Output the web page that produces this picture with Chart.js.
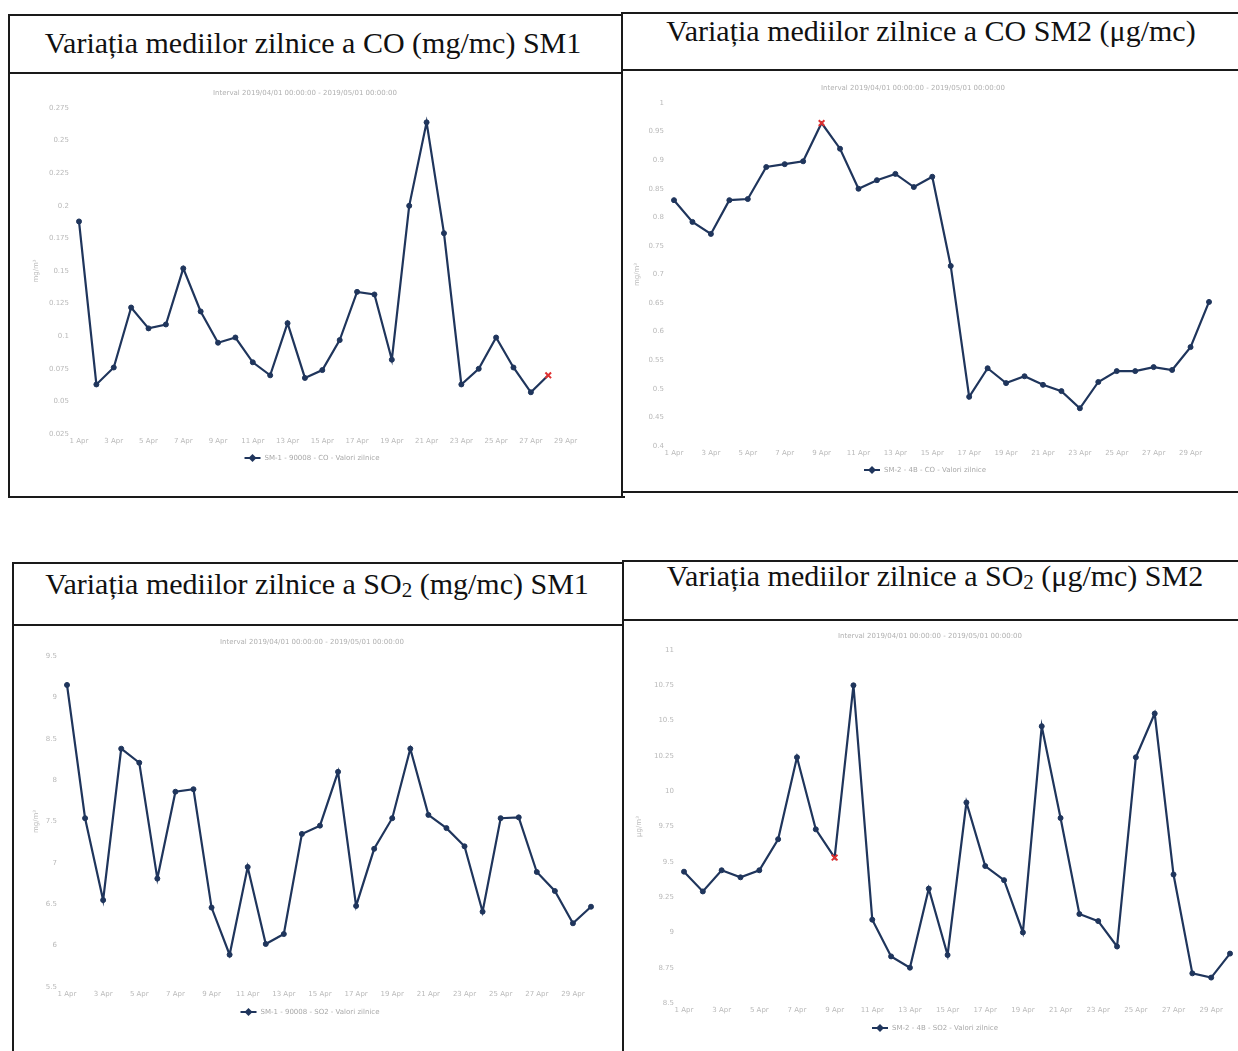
<!DOCTYPE html>
<html>
<head>
<meta charset="utf-8">
<script src="https://cdn.jsdelivr.net/npm/chart.js@4.4.1/dist/chart.umd.min.js"></script>
<style>
  html, body { margin:0; padding:0; background:#fff; }
  body { width:1238px; height:1051px; position:relative; overflow:hidden; }
  .ln { position:absolute; background:#1a1a1a; }
  .ttl { position:absolute; font-family:"Liberation Serif","Times New Roman",serif; font-size:30px; color:#111; white-space:nowrap; transform:translateX(-50%); line-height:1; }
  .ttl sub { font-size:21px; vertical-align:-3px; line-height:0; }
  .cv { position:absolute; }
</style>
</head>
<body>
<script>
// ---------- DATA ----------
const days = ["1 Apr","2 Apr","3 Apr","4 Apr","5 Apr","6 Apr","7 Apr","8 Apr","9 Apr","10 Apr",
  "11 Apr","12 Apr","13 Apr","14 Apr","15 Apr","16 Apr","17 Apr","18 Apr","19 Apr","20 Apr",
  "21 Apr","22 Apr","23 Apr","24 Apr","25 Apr","26 Apr","27 Apr","28 Apr","29 Apr","30 Apr"];

const coSM1 = [0.188,0.063,0.076,0.122,0.106,0.109,0.152,0.119,0.095,0.099,
  0.080,0.070,0.110,0.068,0.074,0.097,0.134,0.132,0.082,0.200,
  0.264,0.179,0.063,0.075,0.099,0.076,0.057,0.070];

const coSM2 = [0.830,0.792,0.771,0.830,0.832,0.888,0.893,0.898,0.965,0.920,
  0.850,0.865,0.876,0.853,0.871,0.715,0.486,0.536,0.510,0.522,
  0.507,0.496,0.466,0.512,0.531,0.531,0.538,0.533,0.573,0.652];

const so2SM1 = [9.15,7.54,6.55,8.38,8.21,6.81,7.86,7.89,6.46,5.89,
  6.95,6.02,6.14,7.35,7.45,8.10,6.48,7.17,7.54,8.38,
  7.58,7.42,7.20,6.41,7.54,7.55,6.89,6.66,6.27,6.47];

const so2SM2 = [9.43,9.29,9.44,9.39,9.44,9.66,10.24,9.73,9.53,10.75,
  9.09,8.83,8.75,9.31,8.84,9.92,9.47,9.37,9.00,10.46,
  9.81,9.13,9.08,8.90,10.24,10.55,9.41,8.71,8.68,8.85];

const titles = [
  "Variația mediilor zilnice a CO (mg/mc) SM1",
  "Variația mediilor zilnice a CO SM2 (μg/mc)",
  "Variația mediilor zilnice a SO<sub>2</sub> (mg/mc) SM1",
  "Variația mediilor zilnice a SO<sub>2</sub> (μg/mc) SM2"
];
const intervalText = "Interval 2019/04/01 00:00:00 - 2019/05/01 00:00:00";
const legendTexts = [
  "SM-1 - 90008 - CO - Valori zilnice",
  "SM-2 - 4B - CO - Valori zilnice",
  "SM-1 - 90008 - SO2 - Valori zilnice",
  "SM-2 - 4B - SO2 - Valori zilnice"
];
const unitTexts = ["mg/m³","mg/m³","mg/m³","µg/m³"];
const yRanges = [[0.025,0.275,0.025],[0.4,1,0.05],[5.5,9.5,0.5],[8.5,11,0.25]];
const redIndex = [27, 8, -1, 8];

// ---------- LAYOUT (frame) ----------
function line(x,y,w,h){ const d=document.createElement('div'); d.className='ln';
  Object.assign(d.style,{left:x+'px',top:y+'px',width:w+'px',height:h+'px'}); document.body.appendChild(d); }
// top-left panel
line(8,14,614,2); line(8,14,2,484); line(8,72,614,1.5); line(8,496,617,2);
// separator
line(621,12,2,486);
// top-right panel
line(621,12,617,2); line(621,69,617,1.5); line(623,491,615,2);
// bottom-left panel
line(12,562,612,2); line(12,562,2,489); line(12,624,612,1.5);
// separator bottom
line(622,560,2,491);
// bottom-right panel
line(622,560,616,2); line(622,619,616,1.5);

const titlePos = [[313,28],[931,16],[317,569],[935,561]];
titles.forEach((t,i)=>{ const d=document.createElement('div'); d.className='ttl'; d.innerHTML=t;
  d.style.left=titlePos[i][0]+'px'; d.style.top=titlePos[i][1]+'px'; document.body.appendChild(d); });

// canvas boxes & chart-area geometry
const boxes = [
  {x:12, y:76, w:606, h:418, pad:{left:20,right:35,top:32,bottom:46}, yw:47, xh:14, sub:[293,17], leg:[300,382]},
  {x:625,y:75, w:611, h:417, pad:{left:8, right:27,top:28,bottom:32}, yw:41, xh:14, sub:[288,13], leg:[300,395]},
  {x:14, y:628,w:606, h:417, pad:{left:18,right:29,top:28,bottom:42}, yw:35, xh:16, sub:[298,14], leg:[296,384]},
  {x:625,y:623,w:613, h:422, pad:{left:10,right:8, top:27,bottom:26}, yw:49, xh:16, sub:[305,13], leg:[310,405]}
];
const series = [coSM1, coSM2, so2SM1, so2SM2];

const NAVY = '#1f355c';
const TICK = '#b9b9b9';

function extrasPlugin(b, legendText){
  return {
    id:'extras',
    afterDraw(chart){
      const ctx = chart.ctx;
      ctx.save();
      ctx.font = '7px "DejaVu Sans", sans-serif';
      ctx.fillStyle = '#b0b0b0';
      ctx.textAlign = 'center'; ctx.textBaseline = 'middle';
      ctx.fillText(intervalText, b.sub[0], b.sub[1]);
      // legend
      const tw = ctx.measureText(legendText).width;
      const total = 16 + 4 + tw;
      let x0 = b.leg[0] - total/2, y0 = b.leg[1];
      ctx.strokeStyle = NAVY; ctx.lineWidth = 2;
      ctx.beginPath(); ctx.moveTo(x0, y0); ctx.lineTo(x0+16, y0); ctx.stroke();
      ctx.fillStyle = NAVY;
      ctx.beginPath(); ctx.moveTo(x0+8, y0-4); ctx.lineTo(x0+12, y0); ctx.lineTo(x0+8, y0+4); ctx.lineTo(x0+4, y0); ctx.closePath(); ctx.fill();
      ctx.fillStyle = '#a8a8a8'; ctx.textAlign='left';
      ctx.fillText(legendText, x0+20, y0);
      ctx.restore();
    }
  };
}

boxes.forEach((b,i)=>{
  const wrap = document.createElement('div'); wrap.className='cv';
  Object.assign(wrap.style,{left:b.x+'px',top:b.y+'px',width:b.w+'px',height:b.h+'px'});
  const c = document.createElement('canvas'); wrap.appendChild(c); document.body.appendChild(wrap);
  const [mn,mx,st] = yRanges[i];
  const ri = redIndex[i];
  new Chart(c, {
    type:'line',
    data:{ labels: days, datasets:[{
      label: legendTexts[i],
      data: series[i],
      borderColor: NAVY, borderWidth: 2.2, tension: 0,
      pointRadius: (ctx)=> ctx.dataIndex===ri ? 4 : 2.5,
      pointStyle: (ctx)=> ctx.dataIndex===ri ? 'crossRot' : 'circle',
      pointBackgroundColor: (ctx)=> ctx.dataIndex===ri ? '#e03030' : NAVY,
      pointBorderColor: (ctx)=> ctx.dataIndex===ri ? '#e03030' : NAVY,
      pointBorderWidth: (ctx)=> ctx.dataIndex===ri ? 2 : 1,
      fill:false
    }]},
    options:{
      responsive:true, maintainAspectRatio:false, animation:false,
      layout:{ padding: b.pad },
      plugins:{ legend:{display:false}, title:{display:false}, tooltip:{enabled:false} },
      scales:{
        x:{
          offset:false,
          grid:{display:false, drawTicks:false},
          border:{display:false},
          ticks:{ autoSkip:false, maxRotation:0, minRotation:0, padding:3, color:TICK,
            font:{size:7, family:'"DejaVu Sans", sans-serif'},
            callback:(v,idx)=> idx%2===0 ? days[idx] : '' },
          afterFit:(s)=>{ s.height = b.xh; }
        },
        y:{
          min:mn, max:mx,
          grid:{display:false, drawTicks:false},
          border:{display:false},
          title:{display:true, text:unitTexts[i], color:TICK, font:{size:7, family:'"DejaVu Sans", sans-serif'}, padding:0},
          ticks:{ stepSize:st, padding:10, color:TICK, font:{size:7, family:'"DejaVu Sans", sans-serif'},
            callback:(v)=> String(+v.toFixed(4)) },
          afterFit:(s)=>{ s.width = b.yw; }
        }
      }
    },
    plugins:[extrasPlugin(b, legendTexts[i])]
  });
});
</script>
</body>
</html>
